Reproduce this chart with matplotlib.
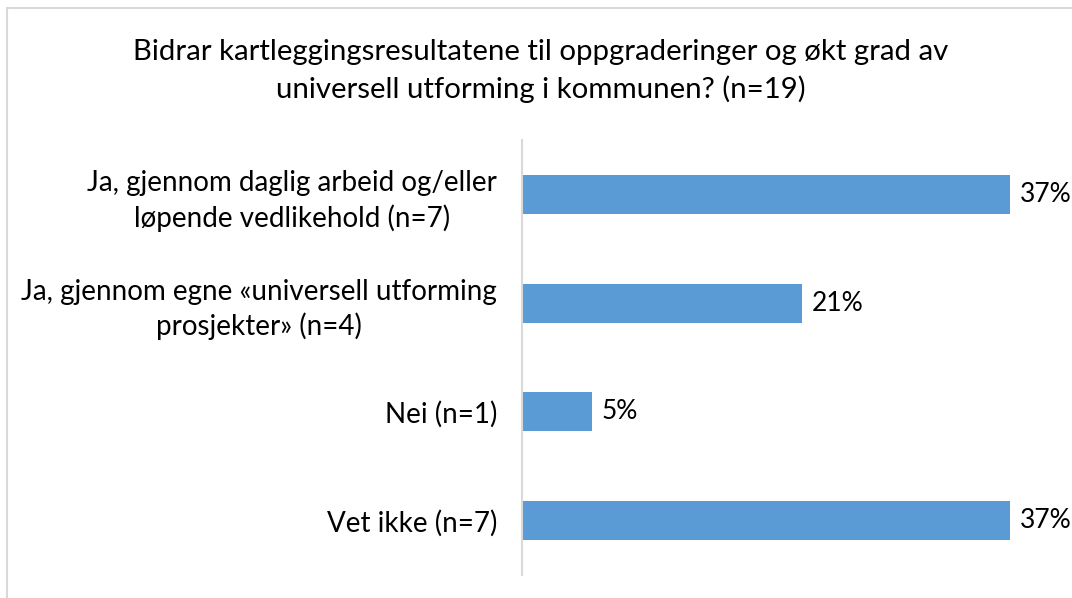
import matplotlib
matplotlib.use("Agg")
import matplotlib.pyplot as plt
from matplotlib.patches import Rectangle

plt.rcParams['font.family'] = ['Lato', 'DejaVu Sans']

categories = [
    "Ja, gjennom daglig arbeid og/eller\nløpende vedlikehold (n=7)",
    "Ja, gjennom egne «universell utforming\nprosjekter» (n=4)",
    "Nei (n=1)",
    "Vet ikke (n=7)",
]
percent = [36.8, 21.1, 5.3, 36.8]
value_labels = ["37%", "21%", "5%", "37%"]
title = ("Bidrar kartleggingsresultatene til oppgraderinger og økt grad av\n"
         "universell utforming i kommunen? (n=19)")

W, H = 1072, 598
fig = plt.figure(figsize=(W / 100, H / 100), dpi=100)

# light grey frame, cut off at right/bottom like the source screenshot
fig.patches.append(Rectangle((7 / W, -0.05), 1.2, (H - 8) / H + 0.05,
                             transform=fig.transFigure, fill=False,
                             edgecolor='#D9D9D9', linewidth=1.5))

ax = fig.add_axes([522 / W, (H - 575) / H, (1010 - 522) / W, 435 / H])
pos = list(range(len(categories)))
ax.barh(pos, percent, height=0.36, color='#5B9BD5')
ax.set_xlim(0, 36.8)
ax.set_ylim(3.5, -0.5)

for p, v, lab in zip(pos, percent, value_labels):
    ax.annotate(lab, (v, p), xytext=(7, 0), textcoords='offset points',
                va='center', ha='left', fontsize=19, color='#000000')

ax.set_yticks(pos)
ax.set_yticklabels(categories, fontsize=20, multialignment='center',
                   linespacing=1.35)
ax.tick_params(axis='y', length=0, pad=18)
ax.set_xticks([])
for s in ['top', 'right', 'bottom']:
    ax.spines[s].set_visible(False)
ax.spines['left'].set_color('#D9D9D9')
ax.spines['left'].set_linewidth(1.5)

fig.text(541 / W, 1 - 71 / H, title, ha='center', va='center',
         fontsize=21.2, linespacing=1.5)

fig.savefig("out.png", dpi=100)
